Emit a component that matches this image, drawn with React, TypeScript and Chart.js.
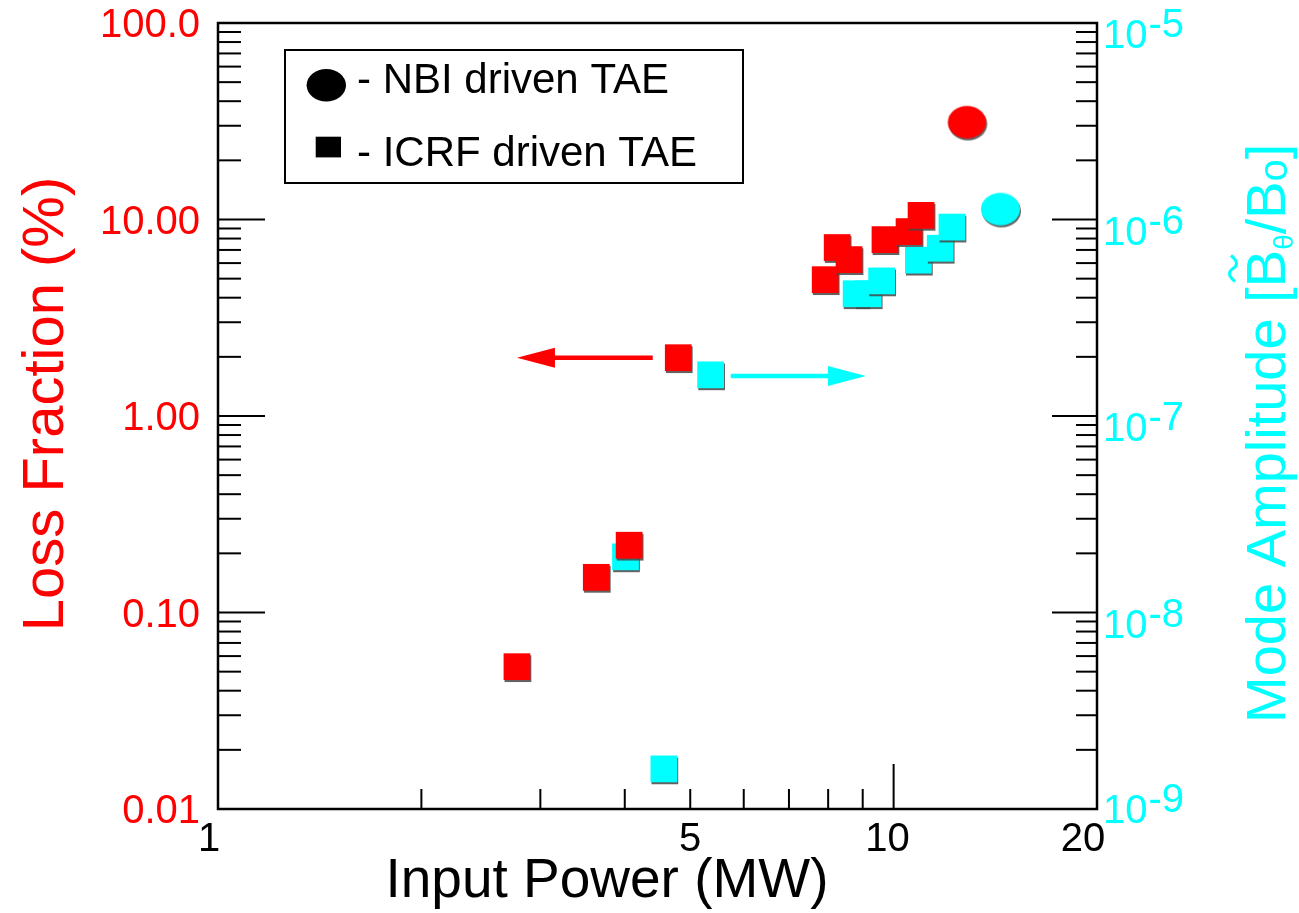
import React, { useEffect, useRef } from "react";
import { Chart, registerables } from "chart.js";

Chart.register(...registerables);

// ---- Data ----
const nbiPowerLoss = [12.84];
const nbiLoss = [31.3];
const icrfPowerLoss = [2.77, 3.63, 4.06, 4.8, 7.92, 8.25, 8.59, 9.71, 10.54, 10.98];
const icrfLoss = [0.053, 0.151, 0.22, 1.98, 4.94, 7.2, 6.25, 7.9, 8.68, 10.5];

const nbiPowerAmp = [14.39];
const nbiAmp = [1.13e-6];
const icrfPowerAmp = [4.01, 4.57, 5.36, 8.8, 9.17, 9.6, 10.88, 11.72, 12.2];
const icrfAmp = [1.92e-8, 1.6e-9, 1.62e-7, 4.19e-7, 4.19e-7, 4.87e-7, 6.21e-7, 7.14e-7, 9.15e-7];

// ---- Axis ticks / labels ----
const xTickValues = [1, 5, 10, 20];
const xTickLabels = ["1", "5", "10", "20"];
const lossTickValues = [100, 10, 1, 0.1, 0.01];
const lossTickLabels = ["100.0", "10.00", "1.00", "0.10", "0.01"];
const ampTickValues = [1e-5, 1e-6, 1e-7, 1e-8, 1e-9];
const ampTickExponents = ["-5", "-6", "-7", "-8", "-9"];

// ---- Arrows (x from -> to, at y) ----
const lossArrowX = [4.4, 2.77];
const lossArrowY = 1.98;
const ampArrowX = [5.74, 9.1];
const ampArrowY = 1.6e-7;

const RED = "#ff0000";
const CYAN = "#00ffff";
const FONT = '"Liberation Sans", Arial, Helvetica, sans-serif';

function ellipseImage(color: string, w: number, h: number): HTMLCanvasElement {
  const c = document.createElement("canvas");
  c.width = Math.ceil(w) + 2;
  c.height = Math.ceil(h) + 2;
  const g = c.getContext("2d")!;
  g.fillStyle = color;
  g.beginPath();
  g.ellipse(c.width / 2, c.height / 2, w / 2, h / 2, 0, 0, Math.PI * 2);
  g.fill();
  return c;
}

function toPoints(xs: number[], ys: number[]) {
  return xs.map((x, i) => ({ x, y: ys[i] }));
}

const decorPlugin = {
  id: "decor",
  beforeDatasetsDraw(chart: any) {
    const ctx: CanvasRenderingContext2D = chart.ctx;
    const { left, right, top, bottom } = chart.chartArea;
    const xs = chart.scales.x;
    const yl = chart.scales.yLoss;
    const ya = chart.scales.yAmp;
    ctx.save();
    ctx.strokeStyle = "#000";
    ctx.lineWidth = 2;
    ctx.lineCap = "butt";
    // left ticks
    for (let d = -2; d <= 2; d++) {
      for (let m = 1; m <= 9; m++) {
        const v = m * Math.pow(10, d);
        if (v > 100.0001) continue;
        const py = yl.getPixelForValue(v);
        const len = m === 1 ? 47 : 23;
        ctx.beginPath();
        ctx.moveTo(left, py);
        ctx.lineTo(left + len, py);
        ctx.stroke();
      }
    }
    // right ticks
    for (let d = -9; d <= -5; d++) {
      for (let m = 1; m <= 9; m++) {
        const v = m * Math.pow(10, d);
        if (v > 1.00001e-5) continue;
        const py = ya.getPixelForValue(v);
        const len = m === 1 ? 45 : 21;
        ctx.beginPath();
        ctx.moveTo(right, py);
        ctx.lineTo(right - len, py);
        ctx.stroke();
      }
    }
    // bottom ticks
    for (let m = 2; m <= 10; m++) {
      const px = xs.getPixelForValue(m);
      const len = m === 10 ? 45 : 20;
      ctx.beginPath();
      ctx.moveTo(px, bottom);
      ctx.lineTo(px, bottom - len);
      ctx.stroke();
    }
    // frame
    ctx.lineWidth = 2.5;
    ctx.strokeRect(left, top, right - left, bottom - top);
    ctx.restore();

    // shadow for markers
    ctx.save();
    ctx.shadowColor = "rgba(70,70,70,0.85)";
    ctx.shadowOffsetX = 1;
    ctx.shadowOffsetY = 2;
    ctx.shadowBlur = 0;
  },
  afterDatasetsDraw(chart: any) {
    const ctx: CanvasRenderingContext2D = chart.ctx;
    ctx.restore();
    const { left, right, bottom } = chart.chartArea;
    const xs = chart.scales.x;
    const yl = chart.scales.yLoss;
    const ya = chart.scales.yAmp;

    // arrows
    const arrow = (x1: number, x2: number, y: number, color: string) => {
      const dir = Math.sign(x2 - x1);
      const head = 38;
      ctx.save();
      ctx.strokeStyle = color;
      ctx.fillStyle = color;
      ctx.lineWidth = 4.5;
      ctx.beginPath();
      ctx.moveTo(x1, y);
      ctx.lineTo(x2 - dir * head + dir * 2, y);
      ctx.stroke();
      ctx.beginPath();
      ctx.moveTo(x2, y);
      ctx.lineTo(x2 - dir * head, y - 10);
      ctx.lineTo(x2 - dir * head, y + 10);
      ctx.closePath();
      ctx.fill();
      ctx.restore();
    };
    arrow(
      xs.getPixelForValue(lossArrowX[0]),
      xs.getPixelForValue(lossArrowX[1]),
      yl.getPixelForValue(lossArrowY),
      RED
    );
    arrow(
      xs.getPixelForValue(ampArrowX[0]),
      xs.getPixelForValue(ampArrowX[1]),
      ya.getPixelForValue(ampArrowY),
      CYAN
    );

    ctx.save();
    // legend box
    ctx.strokeStyle = "#000";
    ctx.lineWidth = 2;
    ctx.strokeRect(285, 50, 458, 133);
    ctx.fillStyle = "#000";
    ctx.beginPath();
    ctx.ellipse(326.3, 85.3, 19.7, 16.3, 0, 0, Math.PI * 2);
    ctx.fill();
    ctx.fillRect(315.7, 136.7, 25.3, 20.7);
    ctx.font = `42px ${FONT}`;
    ctx.textAlign = "left";
    ctx.textBaseline = "alphabetic";
    ctx.fillText("- NBI driven TAE", 357, 93);
    ctx.fillText("- ICRF driven TAE", 357, 166);

    // left tick labels
    ctx.font = `40px ${FONT}`;
    ctx.fillStyle = RED;
    ctx.textAlign = "right";
    lossTickValues.forEach((v, i) => {
      const py = yl.getPixelForValue(v);
      ctx.fillText(lossTickLabels[i], 200, py + 14);
    });

    // bottom tick labels
    ctx.fillStyle = "#000";
    ctx.textAlign = "center";
    xTickValues.forEach((v, i) => {
      const px = xs.getPixelForValue(v);
      ctx.fillText(xTickLabels[i], px - (i === 0 ? 9 : i === 3 ? 14 : i === 2 ? 6 : 0), 851);
    });

    // right tick labels
    ctx.fillStyle = CYAN;
    ctx.textAlign = "left";
    ampTickValues.forEach((v, i) => {
      const py = ya.getPixelForValue(v);
      const base = py + (i === ampTickValues.length - 1 ? 14 : 25);
      ctx.font = `40px ${FONT}`;
      ctx.fillText("10", 1103, base);
      const w = ctx.measureText("10").width;
      ctx.fillText(ampTickExponents[i], 1103 + w + 1, base - 11);
    });

    // x title
    ctx.fillStyle = "#000";
    ctx.textAlign = "center";
    ctx.font = `55px ${FONT}`;
    ctx.fillText("Input Power (MW)", 607, 897);

    // left title
    ctx.save();
    ctx.translate(63, 404);
    ctx.rotate(-Math.PI / 2);
    ctx.fillStyle = RED;
    ctx.font = `58px ${FONT}`;
    ctx.textAlign = "center";
    ctx.fillText("Loss Fraction (%)", 0, 0);
    ctx.restore();

    // right title (rich text)
    ctx.save();
    ctx.translate(1285, 723);
    ctx.rotate(-Math.PI / 2);
    ctx.fillStyle = CYAN;
    ctx.strokeStyle = CYAN;
    ctx.textAlign = "left";
    let cx = 0;
    const big = `56px ${FONT}`;
    const put = (t: string, font: string, dy: number) => {
      ctx.font = font;
      ctx.fillText(t, cx, dy);
      const w = ctx.measureText(t).width;
      cx += w;
      return w;
    };
    put("Mode Amplitude [", big, 0);
    const bStart = cx;
    const bw = put("B", big, 0);
    // tilde above B
    ctx.lineWidth = 3;
    ctx.beginPath();
    const ty = -52;
    const tx0 = bStart + bw * 0.15;
    const tw = bw * 0.7;
    ctx.moveTo(tx0, ty + 2);
    ctx.bezierCurveTo(tx0 + tw * 0.25, ty - 6, tx0 + tw * 0.4, ty - 4, tx0 + tw * 0.5, ty);
    ctx.bezierCurveTo(tx0 + tw * 0.6, ty + 4, tx0 + tw * 0.75, ty + 6, tx0 + tw, ty - 2);
    ctx.stroke();
    put("θ", `28px ${FONT}`, 8);
    put("/B", big, 0);
    put("o", `40px ${FONT}`, 2);
    put("]", big, 0);
    ctx.restore();

    ctx.restore();
  },
};

export default function App() {
  const canvasRef = useRef<HTMLCanvasElement | null>(null);

  useEffect(() => {
    if (!canvasRef.current) return;
    const redEllipse = ellipseImage(RED, 38.3, 32.3);
    const cyanEllipse = ellipseImage(CYAN, 39, 32.3);
    const chart = new Chart(canvasRef.current, {
      type: "scatter",
      data: {
        datasets: [
          {
            label: "NBI loss",
            data: toPoints(nbiPowerLoss, nbiLoss),
            yAxisID: "yLoss",
            pointStyle: redEllipse as any,
            pointRadius: 19,
            backgroundColor: RED,
            borderWidth: 0,
          },
          {
            label: "ICRF loss",
            data: toPoints(icrfPowerLoss, icrfLoss),
            yAxisID: "yLoss",
            pointStyle: "rect",
            pointRadius: 18.9,
            backgroundColor: RED,
            borderColor: RED,
            borderWidth: 0,
          },
          {
            label: "NBI amplitude",
            data: toPoints(nbiPowerAmp, nbiAmp),
            yAxisID: "yAmp",
            pointStyle: cyanEllipse as any,
            pointRadius: 19,
            backgroundColor: CYAN,
            borderWidth: 0,
          },
          {
            label: "ICRF amplitude",
            data: toPoints(icrfPowerAmp, icrfAmp),
            yAxisID: "yAmp",
            pointStyle: "rect",
            pointRadius: 18.9,
            backgroundColor: CYAN,
            borderColor: CYAN,
            borderWidth: 0,
          },
        ],
      },
      options: {
        responsive: false,
        animation: false,
        events: [],
        layout: { padding: { left: 218, top: 23, right: 202, bottom: 104 } },
        plugins: {
          legend: { display: false },
          tooltip: { enabled: false },
          title: { display: false },
        },
        scales: {
          x: { type: "logarithmic", min: 1, max: 20, display: false },
          yLoss: { type: "logarithmic", position: "left", min: 0.01, max: 100, display: false },
          yAmp: { type: "logarithmic", position: "right", min: 1e-9, max: 1e-5, display: false },
        },
      },
      plugins: [decorPlugin],
    });
    return () => chart.destroy();
  }, []);

  return (
    <div style={{ position: "fixed", left: 0, top: 0, width: 1299, height: 913, background: "#fff" }}>
      <canvas ref={canvasRef} width={1299} height={913} />
    </div>
  );
}
